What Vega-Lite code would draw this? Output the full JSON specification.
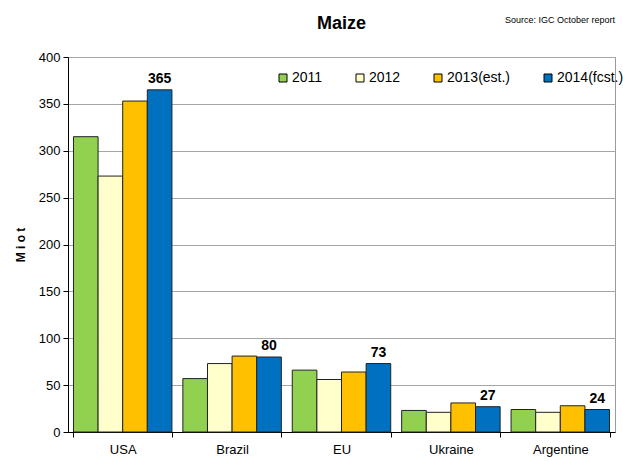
{
  "$schema": "https://vega.github.io/schema/vega-lite/v6.json",
  "width": 547,
  "height": 375,
  "autosize": "none",
  "padding": {"left": 68, "top": 57, "right": 8, "bottom": 29},
  "background": "white",
  "config": {
    "font": "Liberation Sans",
    "view": {"stroke": "#9a9a9a", "strokeWidth": 1}
  },
  "title": {
    "text": "Maize",
    "font": "Liberation Sans",
    "fontSize": 18,
    "fontWeight": "bold",
    "anchor": "middle",
    "offset": -17,
    "color": "black"
  },
  "data": {
    "values": [
      {"country": "USA", "year": "2011", "value": 315},
      {"country": "USA", "year": "2012", "value": 273},
      {"country": "USA", "year": "2013(est.)", "value": 353},
      {"country": "USA", "year": "2014(fcst.)", "value": 365},
      {"country": "Brazil", "year": "2011", "value": 57},
      {"country": "Brazil", "year": "2012", "value": 73},
      {"country": "Brazil", "year": "2013(est.)", "value": 81},
      {"country": "Brazil", "year": "2014(fcst.)", "value": 80},
      {"country": "EU", "year": "2011", "value": 66},
      {"country": "EU", "year": "2012", "value": 56},
      {"country": "EU", "year": "2013(est.)", "value": 64},
      {"country": "EU", "year": "2014(fcst.)", "value": 73},
      {"country": "Ukraine", "year": "2011", "value": 23},
      {"country": "Ukraine", "year": "2012", "value": 21},
      {"country": "Ukraine", "year": "2013(est.)", "value": 31},
      {"country": "Ukraine", "year": "2014(fcst.)", "value": 27},
      {"country": "Argentine", "year": "2011", "value": 24},
      {"country": "Argentine", "year": "2012", "value": 21},
      {"country": "Argentine", "year": "2013(est.)", "value": 28},
      {"country": "Argentine", "year": "2014(fcst.)", "value": 24}
    ]
  },
  "encoding": {
    "x": {
      "field": "country",
      "type": "nominal",
      "sort": ["USA", "Brazil", "EU", "Ukraine", "Argentine"],
      "scale": {"paddingInner": 0.1, "paddingOuter": 0.05},
      "axis": {
        "title": null,
        "labelAngle": 0,
        "labelFontSize": 13,
        "labelColor": "black",
        "labelPadding": 6,
        "tickBand": "extent",
        "tickSize": 5,
        "tickColor": "black",
        "domainColor": "black"
      }
    },
    "xOffset": {
      "field": "year",
      "type": "nominal",
      "scale": {"domain": ["2011", "2012", "2013(est.)", "2014(fcst.)"]}
    },
    "y": {
      "field": "value",
      "type": "quantitative",
      "scale": {"domain": [0, 400], "nice": false},
      "axis": {
        "title": "M i o  t",
        "titleFont": "Liberation Sans",
        "titleFontSize": 12,
        "titleFontWeight": "bold",
        "titleColor": "black",
        "titlePadding": 11,
        "values": [0, 50, 100, 150, 200, 250, 300, 350, 400],
        "labelFontSize": 13,
        "labelColor": "black",
        "labelPadding": 3,
        "tickSize": 5,
        "tickColor": "black",
        "domainColor": "black",
        "grid": true,
        "gridColor": "#a6a6a6",
        "gridWidth": 1
      }
    }
  },
  "layer": [
    {
      "mark": {"type": "bar", "stroke": "#222222", "strokeWidth": 1},
      "encoding": {
        "color": {
          "field": "year",
          "type": "nominal",
          "scale": {
            "domain": ["2011", "2012", "2013(est.)", "2014(fcst.)"],
            "range": ["#92D050", "#FFFFCC", "#FFC000", "#0070C0"]
          },
          "legend": {
            "title": null,
            "orient": "none",
            "legendX": 208,
            "legendY": 14,
            "direction": "horizontal",
            "symbolType": "square",
            "symbolSize": 64,
            "symbolStrokeColor": "black",
            "symbolStrokeWidth": 1,
            "symbolOpacity": 1,
            "labelFontSize": 14,
            "labelColor": "black",
            "labelOffset": 2,
            "columnPadding": 30
          }
        }
      }
    },
    {
      "transform": [{"filter": "datum.year == '2014(fcst.)'"}],
      "mark": {
        "type": "text",
        "baseline": "bottom",
        "dy": -4,
        "fontSize": 14,
        "fontWeight": "bold",
        "color": "black"
      },
      "encoding": {
        "text": {"field": "value", "type": "quantitative"}
      }
    },
    {
      "data": {"values": [{"note": "Source: IGC October report"}]},
      "mark": {
        "type": "text",
        "align": "right",
        "baseline": "middle",
        "fontSize": 9,
        "color": "black"
      },
      "encoding": {
        "x": {"value": 547},
        "xOffset": {"value": 0},
        "y": {"value": -37},
        "text": {"field": "note", "type": "nominal"}
      }
    }
  ]
}
